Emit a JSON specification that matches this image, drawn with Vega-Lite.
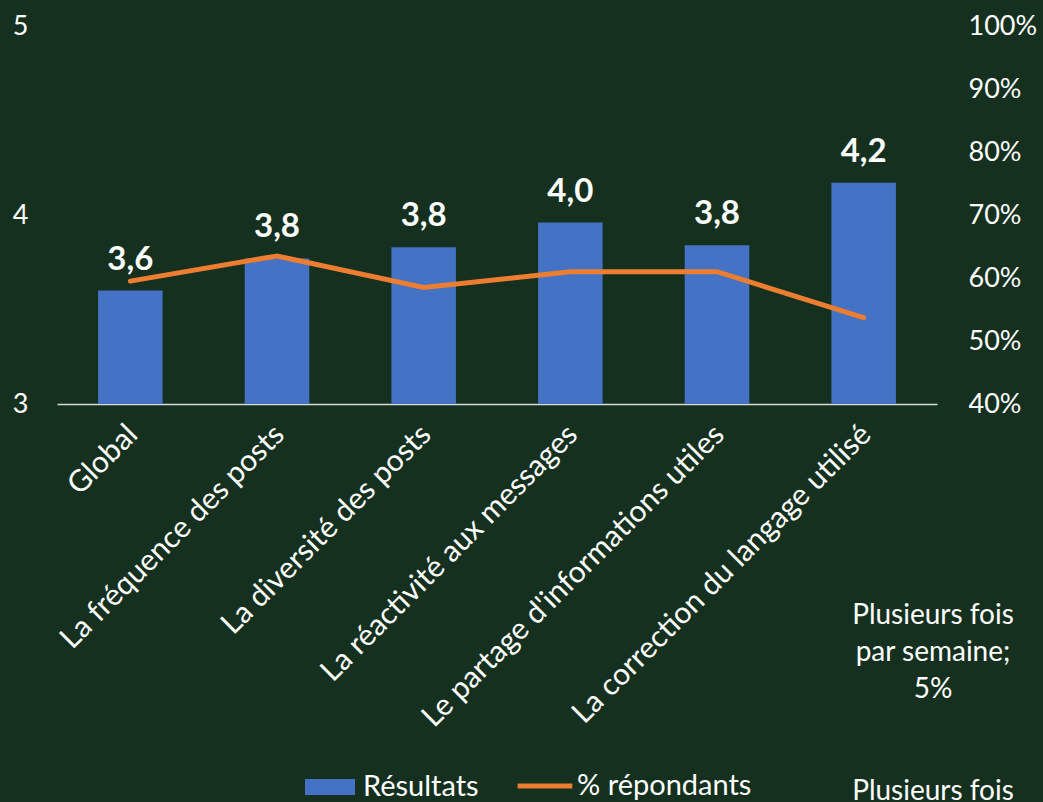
{
  "$schema": "https://vega.github.io/schema/vega-lite/v6.json",
  "width": 880,
  "height": 378,
  "autosize": "none",
  "padding": {"left": 57, "top": 26, "right": 106, "bottom": 398},
  "background": "#15301f",
  "title": {
    "text": ["Plusieurs fois", "par semaine;", "5%"],
    "subtitle": "Plusieurs fois",
    "orient": "bottom", "anchor": "end", "align": "center", "frame": "group",
    "dx": -4, "offset": -200,
    "color": "white", "fontSize": 28, "fontWeight": "normal", "lineHeight": 37,
    "subtitleColor": "white", "subtitleFontSize": 28, "subtitlePadding": 74
  },
  "config": {
    "view": {"stroke": null},
    "font": "Lato",
    "locale": {"number": {"decimal": ",", "thousands": " ", "grouping": [3], "currency": ["", " €"]}}
  },
  "data": {
    "values": [
      {"critere": "Global", "resultat": 3.6, "pct": 0.595},
      {"critere": "La fréquence des posts", "resultat": 3.77, "pct": 0.635},
      {"critere": "La diversité des posts", "resultat": 3.83, "pct": 0.585},
      {"critere": "La réactivité aux messages", "resultat": 3.96, "pct": 0.61},
      {"critere": "Le partage d'informations utiles", "resultat": 3.84, "pct": 0.61},
      {"critere": "La correction du langage utilisé", "resultat": 4.17, "pct": 0.537}
    ]
  },
  "encoding": {
    "x": {
      "field": "critere", "type": "nominal", "sort": null,
      "scale": {"paddingInner": 0.56, "paddingOuter": 0.28},
      "axis": {
        "title": null, "labelAngle": -45, "labelColor": "white", "labelFontSize": 30,
        "ticks": false, "labelPadding": 15, "labelOffset": -8, "domainColor": "#d9d9d9", "domainWidth": 1.5,
        "labelLimit": 600
      }
    }
  },
  "layer": [
    {
      "encoding": {
        "y": {
          "field": "resultat", "type": "quantitative",
          "scale": {"domain": [3, 5], "zero": false, "nice": false},
          "axis": {
            "title": null, "values": [3, 4, 5], "grid": false, "ticks": false, "domain": false,
            "labelColor": "white", "labelFontSize": 27, "labelPadding": 29,
            "labelExpr": "datum.value", "labelOverlap": false, "labelFlush": false
          }
        }
      },
      "layer": [
        {
          "mark": {"type": "bar"},
          "encoding": {
            "y2": {"datum": 3},
            "color": {
              "datum": "Résultats",
              "scale": {"range": ["#4472C4"]},
              "legend": {
                "title": null, "orient": "none", "legendX": 248, "legendY": 736,
                "symbolType": "M-1,-0.32H1V0.32H-1Z", "symbolSize": 2500, "symbolStrokeWidth": 0,
                "labelColor": "white", "labelFontSize": 29, "labelOffset": 8, "labelLimit": 300
              }
            }
          }
        },
        {
          "mark": {"type": "text", "color": "white", "fontSize": 33, "fontWeight": "bold", "baseline": "alphabetic", "dy": -21},
          "encoding": {"text": {"field": "resultat", "type": "quantitative", "format": ".1f"}}
        }
      ]
    },
    {
      "mark": {"type": "line", "strokeWidth": 5, "strokeCap": "round"},
      "encoding": {
        "y": {
          "field": "pct", "type": "quantitative",
          "scale": {"domain": [0.4, 1], "zero": false, "nice": false},
          "axis": {
            "orient": "right", "title": null, "values": [0.4, 0.5, 0.6, 0.7, 0.8, 0.9, 1],
            "grid": false, "ticks": false, "domain": false, "format": ".0%",
            "labelColor": "white", "labelFontSize": 27, "labelPadding": 31,
            "labelOverlap": false, "labelFlush": false
          }
        },
        "stroke": {
          "datum": "% répondants",
          "scale": {"range": ["#ED7D31"]},
          "legend": {
            "title": null, "orient": "none", "legendX": 458, "legendY": 730,
            "symbolType": "stroke", "symbolSize": 3000, "symbolStrokeWidth": 5,
            "labelColor": "white", "labelFontSize": 29, "labelOffset": 2, "labelLimit": 300
          }
        }
      }
    }
  ],
  "resolve": {"scale": {"y": "independent", "color": "independent", "stroke": "independent"}}
}
